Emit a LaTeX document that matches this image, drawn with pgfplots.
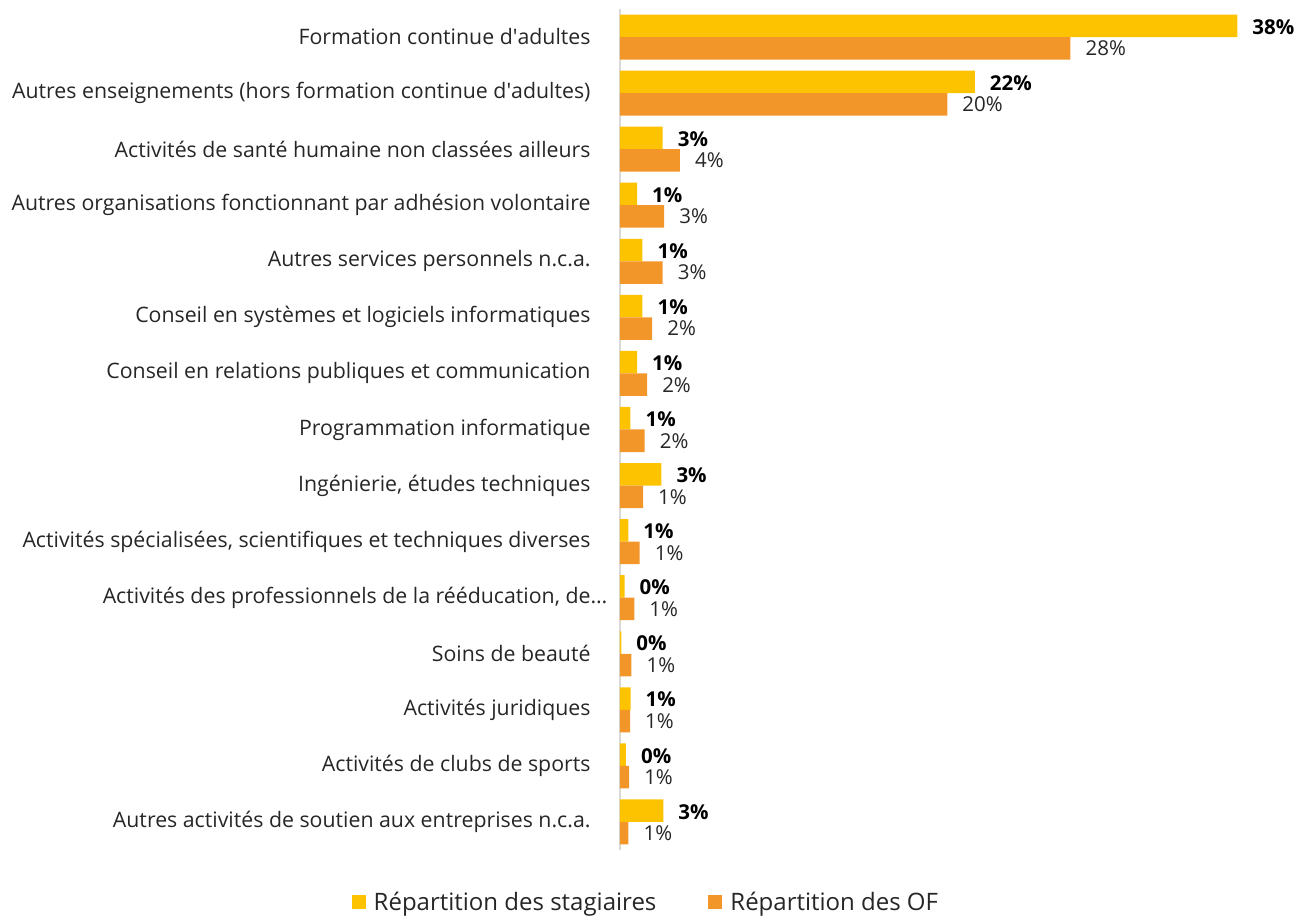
\documentclass[border=0pt]{standalone}
\usepackage{fontspec}
\setmainfont{Open Sans}
\usepackage{pgfplots}
\pgfplotsset{compat=1.18}
\definecolor{cYel}{HTML}{FDC300}
\definecolor{cOra}{HTML}{F2962A}
\definecolor{cAxis}{HTML}{D9D9D9}
\newcommand{\lblfont}{\fontsize{21.3}{24}\selectfont}
\newcommand{\valfont}{\fontsize{20.5}{24}\selectfont}
\newcommand{\legfont}{\fontsize{24}{28}\selectfont}
\newcommand{\q}{\textquotesingle}
\begin{document}
\begin{tikzpicture}
\begin{axis}[
  xbar, scale only axis, width=648pt, height=841pt,
  xmin=0, xmax=40, ymin=-0.5, ymax=14.5, y dir=reverse,
  clip=false,
  axis x line=none, axis y line*=left,
  y axis line style={draw=cAxis, line width=1.5pt, -},
  ytick={0,...,14}, ytick style={draw=none},
  yticklabels={
    Formation continue d\q adultes,
    Autres enseignements (hors formation continue d\q adultes),
    Activités de santé humaine non classées ailleurs,
    Autres organisations fonctionnant par adhésion volontaire,
    Autres services personnels n.c.a.,
    Conseil en systèmes et logiciels informatiques,
    Conseil en relations publiques et communication,
    Programmation informatique,
    {Ingénierie, études techniques},
    {Activités spécialisées, scientifiques et techniques diverses},
    {Activités des professionnels de la rééducation, de\rlap{…}},
    Soins de beauté,
    Activités juridiques,
    Activités de clubs de sports,
    Autres activités de soutien aux entreprises n.c.a.},
  yticklabel style={font=\lblfont, inner sep=0pt, anchor=east, xshift=-25pt, text=black!85},
  bar width=22.5pt,
  nodes near coords={\pgfmathprintnumber[fixed,precision=0,assume math mode=true]{\pgfplotspointmeta}\%},
  legend style={draw=none, at={(0.04,-0.062)}, anchor=center, legend columns=2,
    font=\legfont, text=black!85, /tikz/every even column/.append style={column sep=50pt}},
  legend image code/.code={\fill[#1] (0pt,-7pt) rectangle (14pt,7pt); \path (20pt,0pt);},
]
\addplot[fill=cYel, draw=none, bar shift=11.25pt,
  every node near coord/.append style={font=\valfont\bfseries, text=black, anchor=west, inner sep=0pt, xshift=15pt, yshift=-1pt}]
  coordinates {(38.1,0) (21.9,1) (2.63,2) (1.05,3) (1.38,4) (1.38,5) (1.05,6) (0.64,7) (2.55,8) (0.51,9) (0.28,10) (0.08,11) (0.65,12) (0.37,13) (2.67,14)};
\addlegendentry{Répartition des stagiaires}
\addplot[fill=cOra, draw=none, bar shift=-11.25pt,
  every node near coord/.append style={font=\valfont, text=black!85, anchor=west, inner sep=0pt, xshift=15pt}]
  coordinates {(27.8,0) (20.2,1) (3.70,2) (2.73,3) (2.63,4) (1.98,5) (1.67,6) (1.52,7) (1.42,8) (1.21,9) (0.88,10) (0.70,11) (0.62,12) (0.56,13) (0.52,14)};
\addlegendentry{Répartition des OF}
\path (axis cs:-38.27,-0.66) rectangle (axis cs:42.22,15.62);
\end{axis}
\end{tikzpicture}
\end{document}
